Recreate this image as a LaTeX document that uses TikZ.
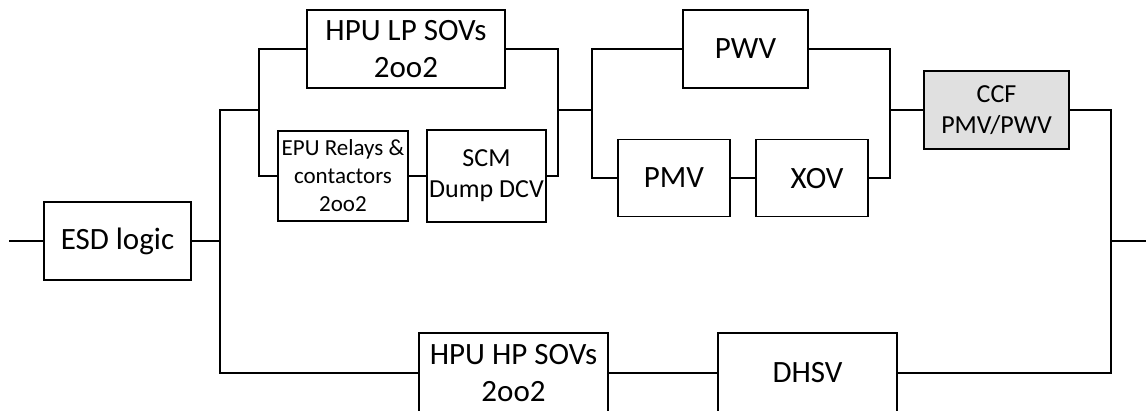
\documentclass[tikz,border=0pt]{standalone}
\usepackage{fontspec}
\setmainfont{Carlito}
\usetikzlibrary{positioning,calc}

\begin{document}
\begin{tikzpicture}[
    x=1pt, y=-1pt,
    line width=1.8pt,
    box/.style={rectangle, draw, inner sep=0pt, align=center,
                font=\fontsize{31}{37}\selectfont},
    smallbox/.style={box, font=\fontsize{26}{31}\selectfont},
    tinybox/.style={box, font=\fontsize{23}{28}\selectfont},
    ccfbox/.style={smallbox, fill=black!12}
]
\useasboundingbox (0,0) rectangle (1146,410);
\clip (0,0) rectangle (1146,410);

% ESD logic
\node[box, minimum width=147pt, minimum height=78pt] (esd) at (117.5,241) {ESD logic};

% Low pressure path
\node[box, minimum width=198pt, minimum height=78pt] (hpulp) at (406,49) {HPU LP SOVs\\2oo2};
\node[tinybox, minimum width=130pt, minimum height=90pt] (epu) at (343,176) {EPU Relays \&\\contactors\\2oo2};
\node[smallbox, minimum width=119pt, minimum height=92pt] (scm) at (486.5,176) {SCM\\Dump DCV};

% Valves
\node[box, minimum width=125pt, minimum height=78pt] (pwv) at (745.5,49) {PWV};
\node[box, minimum width=112pt, minimum height=77pt] (pmv) at (674,178) {PMV};
\node[box, minimum width=112pt, minimum height=77pt, text depth=0pt] (xov) at (812,178) {\hspace*{10pt}XOV};
\node[ccfbox, minimum width=145pt, minimum height=78pt] (ccf) at (996.5,110) {CCF\\PMV/PWV};

% High pressure path
\node[box, minimum width=189pt, minimum height=80pt] (hpuhp) at (513.5,373) {HPU HP SOVs\\2oo2};
\node[box, minimum width=179pt, minimum height=80pt] (dhsv) at (807.5,373) {DHSV};

% Junctions
\coordinate (in) at (9,241);
\coordinate (split) at (220,241);
\coordinate (lpin) at (259,110);
\coordinate (lpout) at (558,110);
\coordinate (vin) at (592,110);
\coordinate (vout) at (890,110);
\coordinate (join) at (1111,241);
\coordinate (out) at (1146,241);

% Connections
\draw (in) -- (esd);
\draw (esd) -- (split);
\draw (lpin) -| (split) |- (hpuhp.west);
\draw (hpulp.west) -| (lpin) |- (epu.west);
\draw (epu) -- (scm);
\draw (hpulp.east) -| (lpout) |- (scm.east);
\draw (lpout) -- (vin);
\draw (pwv.west) -| (vin) |- (pmv.west);
\draw (pmv) -- (xov);
\draw (pwv.east) -| (vout) |- (xov.east);
\draw (vout) -- (ccf);
\draw (ccf.east) -| (join) |- (dhsv.east);
\draw (join) -- (out);
\draw (hpuhp) -- (dhsv);

\end{tikzpicture}
\end{document}
